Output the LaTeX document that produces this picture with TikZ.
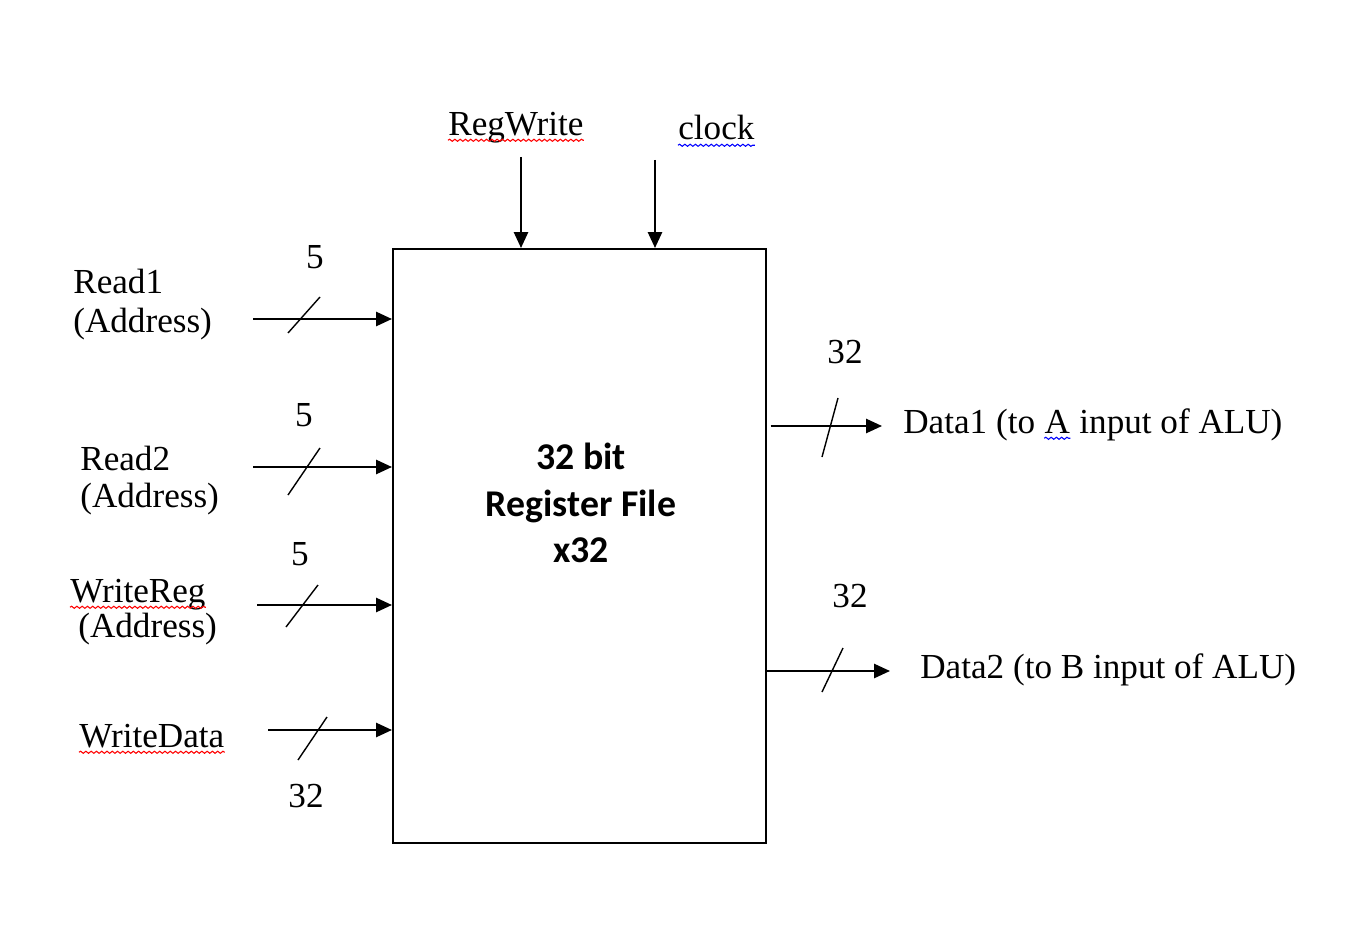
\documentclass[tikz,border=0pt]{standalone}
\usepackage{fontspec}
\setmainfont{Liberation Serif}
\newfontfamily\calfont{Carlito}
\usepackage{tikz}
\usetikzlibrary{arrows.meta, positioning, decorations.pathmorphing}
\tikzset{
  every picture/.style={>={Triangle[length=9pt, width=8pt]}},
  sig/.style={->, line width=1.2pt},
  bus/.style={line width=0.8pt},
  lbl/.style={font=\fontsize{20}{23}\selectfont, inner sep=0pt},
  squig/.style={line width=0.6pt, decorate, decoration={snake, amplitude=0.6pt, segment length=3pt}},
}
\begin{document}
\begin{tikzpicture}[x=0.02cm, y=-0.02cm]
  \useasboundingbox (0,0) rectangle (1360,926);
  % register file block
  \node[draw, line width=1.2pt, minimum width=7.46cm, minimum height=11.88cm, inner sep=0pt] (rf) at (579.5,546) {};
  \node[font=\calfont\bfseries\fontsize{21.5}{26.6}\selectfont, align=center] (rft) at (581,503) {32 bit\\Register File\\x32};

  % control inputs
  \node[lbl, anchor=base west] (rw) at (448,135) {RegWrite};
  \node[lbl, anchor=base west] (ck) at (678,140) {clock};
  \coordinate (rwin) at (521,157);
  \coordinate (ckin) at (655,160);
  \draw[sig] (rwin) -- (rwin |- rf.north);
  \draw[sig] (ckin) -- (ckin |- rf.north);

  % address and data inputs
  \node[lbl, anchor=base west] (r1) at (73,293) {Read1};
  \node[lbl, anchor=base west] (r1a) at (73,332) {(Address)};
  \node[lbl, anchor=base west] (r2) at (80,470) {Read2};
  \node[lbl, anchor=base west] (r2a) at (80,507) {(Address)};
  \node[lbl, anchor=base west] (wr) at (70,602) {WriteReg};
  \node[lbl, anchor=base west] (wra) at (78,637) {(Address)};
  \node[lbl, anchor=base west] (wd) at (79,747) {WriteData};
  \coordinate (r1in) at (253,319);
  \coordinate (r2in) at (253,467);
  \coordinate (wrin) at (257,605);
  \coordinate (wdin) at (268,730);
  \draw[sig] (r1in) -- (r1in -| rf.west);
  \draw[sig] (r2in) -- (r2in -| rf.west);
  \draw[sig] (wrin) -- (wrin -| rf.west);
  \draw[sig] (wdin) -- (wdin -| rf.west);
  \draw[bus] (320,297) -- (288,333);
  \draw[bus] (320,448) -- (288,495);
  \draw[bus] (318,585) -- (286,627);
  \draw[bus] (327,717) -- (298,760);
  \node[lbl, anchor=base] (n1) at (315,268) {5};
  \node[lbl, anchor=base] (n2) at (304,426) {5};
  \node[lbl, anchor=base] (n3) at (300,565) {5};
  \node[lbl, anchor=base] (n4) at (306,807) {32};

  % data outputs
  \coordinate (d1out) at (882,426);
  \coordinate (d2out) at (890,671);
  \draw[sig] ([xshift=2pt]rf.east |- d1out) -- (d1out);
  \draw[sig] (rf.east |- d2out) -- (d2out);
  \draw[bus] (838,398) -- (822,457);
  \draw[bus] (843,648) -- (822,692);
  \node[lbl, anchor=base] (n5) at (845,363) {32};
  \node[lbl, anchor=base] (n6) at (850,607) {32};
  \node[lbl, anchor=base west] (d1) at (903,433) {Data1 (to\ \null};
  \node[lbl, anchor=base west] (d1A) at (d1.base east) {A};
  \node[lbl, anchor=base west] (d1r) at (d1A.base east) {\null\ input of ALU)};
  \node[lbl, anchor=base west] (d2) at (920,678) {Data2 (to B input of ALU)};

  % spell-check marks
  \draw[squig, red] ([yshift=-3pt]rw.base west) -- ([yshift=-3pt]rw.base east);
  \draw[squig, blue] ([yshift=-3pt]ck.base west) -- ([yshift=-3pt]ck.base east);
  \draw[squig, red] ([yshift=-3pt]wr.base west) -- ([yshift=-3pt]wr.base east);
  \draw[squig, red] ([yshift=-3pt]wd.base west) -- ([yshift=-3pt]wd.base east);
  \draw[squig, blue] ([yshift=-3pt]d1A.base west) -- ([yshift=-3pt]d1A.base east);
\end{tikzpicture}
\end{document}
